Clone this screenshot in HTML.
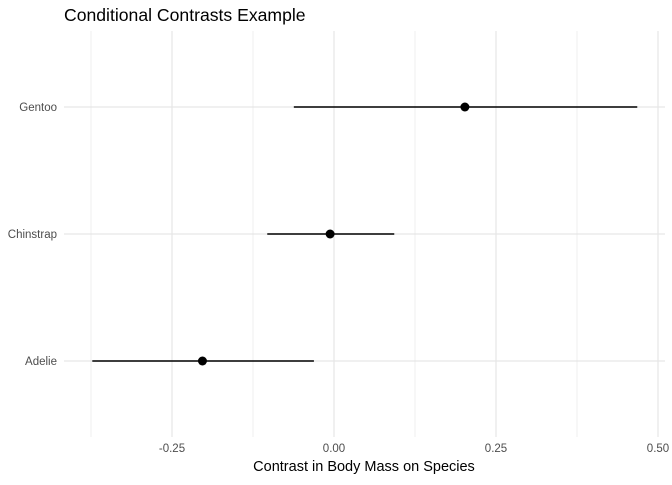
<!DOCTYPE html>
<html><head><meta charset="utf-8"><style>
body{margin:0;background:#fff;font-family:"Liberation Sans",sans-serif;}
</style></head><body>
<svg width="672" height="480" xmlns="http://www.w3.org/2000/svg">
<rect width="672" height="480" fill="#fff"/>
<text x="64" y="21" font-size="17.6" fill="#000">Conditional Contrasts Example</text>
<g id="grid"></g>
<g id="marks"></g>
<g id="labels"></g>
<text x="364" y="471" font-size="14.5" text-anchor="middle" fill="#000">Contrast in Body Mass on Species</text>
</svg>
<script>
const categories=["Adelie","Chinstrap","Gentoo"];
const estimates=[-0.203,-0.006,0.202];
const lows=[-0.373,-0.103,-0.062];
const highs=[-0.031,0.093,0.468];
const xTicks=[-0.25,0,0.25,0.5];
const xTickLabels=["-0.25","0.00","0.25","0.50"];
const minorTicks=[-0.375,-0.125,0.125,0.375];
const NS="http://www.w3.org/2000/svg";
const L=64,R=665,T=31,B=437;
const x=v=>334+v*648;
const y=i=>361-i*127;
function mk(tag,attrs,parent){const e=document.createElementNS(NS,tag);for(const k in attrs)e.setAttribute(k,attrs[k]);document.getElementById(parent).appendChild(e);return e;}
minorTicks.forEach(v=>{const e=mk('line',{x1:x(v),x2:x(v),y1:T,y2:B,stroke:'#ebebeb','stroke-width':0.8},'grid');

});
xTicks.forEach((v,i)=>{const e=mk('line',{x1:x(v),x2:x(v),y1:T,y2:B,stroke:'#e6e6e6','stroke-width':1.2},'grid');


const t=mk('text',{x:x(v),y:452,'font-size':11.5,'text-anchor':'middle',fill:'#4d4d4d'},'labels');t.textContent=xTickLabels[i];

});
categories.forEach((c,i)=>{const g=mk('line',{x1:L,x2:R,y1:y(i),y2:y(i),stroke:'#e6e6e6','stroke-width':1.2},'grid');


const t=mk('text',{x:57,y:y(i)+4,'font-size':11.5,'text-anchor':'end',fill:'#4d4d4d'},'labels');t.textContent=c;


const l=mk('line',{x1:x(lows[i]),x2:x(highs[i]),y1:y(i),y2:y(i),stroke:'#000','stroke-width':1.4},'marks');


const p=mk('circle',{cx:x(estimates[i]),cy:y(i),r:4.5,fill:'#000'},'marks');

});
</script>
</body></html>
